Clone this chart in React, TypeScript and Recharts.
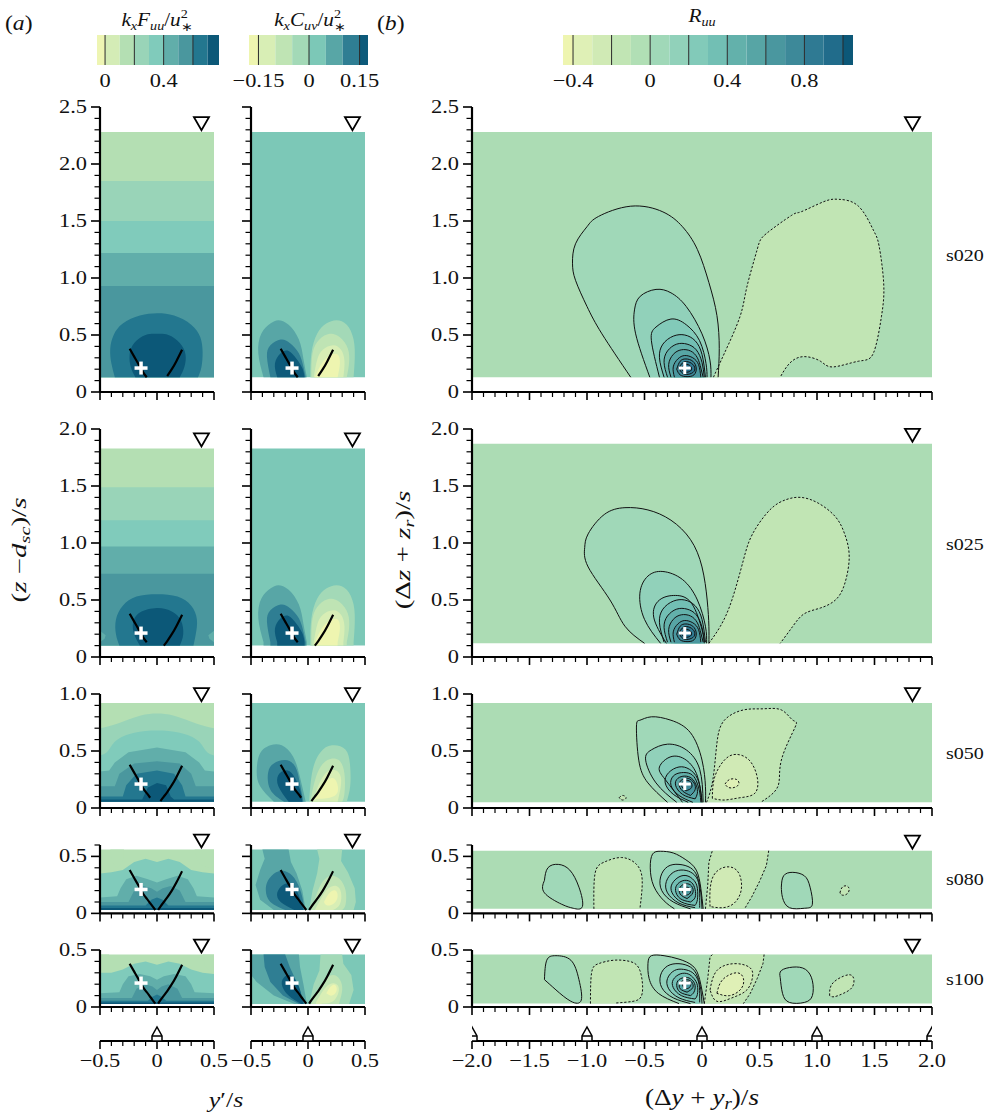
import React from 'react'
import { ComposedChart, Area, Line, Scatter, XAxis, YAxis, ReferenceDot } from 'recharts'

type Pt = [number, number] | null
type Curve = 'linear' | 'natural'
type Shape = { fill: string; pts: Pt[]; closed?: boolean; line?: 'solid' | 'dash'; curve?: Curve }

const SERIF = '"Liberation Serif", "Times New Roman", serif'
const STRETCH = 1.18
const ROT_STRETCH = 1.45
const UNIT = 114 // px per s, both directions
const YW = 44
const MT = 22
const MR = 10
const XH = 14
const AXIS_Y = 1041
const BAR_PAD = 30

// ---- colour bars ----
const FUU_EDGES = [-0.055, 0, 0.1, 0.2, 0.3, 0.4, 0.5, 0.6, 0.7, 0.778]
const FUU_COLORS = ['#eef5b3', '#d4ecb6', '#b4dfb3', '#99d4b8', '#80cbbb', '#61aeaa', '#4a979e', '#23778f', '#0c5878']
const FUU_LINES = [0, 0.2, 0.4, 0.6]
const FUU_TICKS = [0, 0.4]
const FUU_LABELS = ['0', '0.4']

const CUV_EDGES = [-0.178, -0.15, -0.1, -0.05, 0, 0.05, 0.1, 0.15, 0.175]
const CUV_COLORS = ['#eef5b0', '#d8eeb5', '#bfe4b4', '#a3d9b7', '#7cc8b7', '#58a6a6', '#2f7e93', '#0d5a7a']
const CUV_LINES = [-0.15, 0, 0.15]
const CUV_TICKS = [-0.15, 0, 0.15]
const CUV_LABELS = ['−0.15', '0', '0.15']

const RUU_EDGES = [-0.452, -0.4, -0.3, -0.2, -0.1, 0, 0.1, 0.2, 0.3, 0.4, 0.5, 0.6, 0.7, 0.8, 0.9, 1.0, 1.052]
const RUU_COLORS = [
  '#eef5b0', '#dff0b6', '#d0eab5', '#c1e5b4', '#b1dfb5', '#a0d8b8', '#91d1ba', '#82cab9',
  '#72bfb4', '#63b1ab', '#57a5a5', '#4a979f', '#3d8999', '#2f7a93', '#216c8b', '#0c5878',
]
const RUU_LINES = [-0.4, -0.2, 0, 0.2, 0.4, 0.6, 0.8, 1.0]
const RUU_TICKS = [-0.4, 0, 0.4, 0.8]
const RUU_LABELS = ['−0.4', '0', '0.4', '0.8']

const F = FUU_COLORS
const C = CUV_COLORS
const R = RUU_COLORS
const B_BG = '#acdcb4'

// ---- cases ----
const CASES = ['s020', 's025', 's050', 's080', 's100']
const Y_MAX = [2.5, 2.0, 1.0, 0.6, 0.5]
const FLOOR_A = [0.13, 0.1, 0.055, 0.03, 0.026]
const SURFACE_A = [2.28, 1.83, 0.92, 0.56, 0.46]
const FLOOR_B = [0.13, 0.12, 0.05, 0.04, 0.03]
const SURFACE_B = [2.28, 1.87, 0.92, 0.55, 0.46]
const ROW_ZERO = [392, 657, 808, 913, 1007]

const PLUS_A: [number, number] = [-0.14, 0.21]
const PLUS_B: [number, number] = [-0.15, 0.21]
const SURFACE_MARK_A = 0.39
const SURFACE_MARK_B = 1.83
const ROUGHNESS_A = [0]
const ROUGHNESS_B = [-2, -1, 0, 1, 2]

// edges of the shear layer drawn over the spectra
const ARC_LEFT: Pt[] = [[-0.24, 0.38], [-0.2, 0.31], [-0.16, 0.24], [-0.12, 0.17], [-0.09, 0.13], [-0.06, 0.09], [-0.03, 0.05], [-0.015, 0.03]]
const ARC_RIGHT: Pt[] = [[0.01, 0.03], [0.03, 0.06], [0.06, 0.1], [0.09, 0.14], [0.13, 0.2], [0.17, 0.27], [0.22, 0.37]]

const fl = (fill: string, pts: Pt[], closed = false, curve?: Curve): Shape => ({ fill, pts, closed, curve })
const sol = (fill: string, pts: Pt[], closed = false, curve?: Curve): Shape => ({ fill, pts, closed, curve, line: 'solid' })
const dsh = (fill: string, pts: Pt[], closed = false, curve?: Curve): Shape => ({ fill, pts, closed, curve, line: 'dash' })

// ---- k_x F_uu ----
const FUU_S020: Shape[] = [
  fl(F[3], [[-0.5, 1.85], [0.5, 1.85]]),
  fl(F[4], [[-0.5, 1.5], [0.5, 1.5]]),
  fl(F[5], [[-0.5, 1.22], [0.5, 1.22]]),
  fl(F[6], [[-0.5, 0.93], [0.5, 0.93]]),
  fl(F[7], [[-0.37, 0.13], [-0.4, 0.25], [-0.41, 0.38], [-0.38, 0.5], [-0.3, 0.6], [-0.15, 0.67], [0, 0.69], [0.15, 0.67], [0.3, 0.59], [0.38, 0.48], [0.4, 0.35], [0.39, 0.22], [0.36, 0.13]], false, 'natural'),
  fl(F[8], [[-0.19, 0.13], [-0.23, 0.22], [-0.24, 0.33], [-0.2, 0.43], [-0.1, 0.5], [0, 0.51], [0.1, 0.5], [0.2, 0.43], [0.25, 0.33], [0.24, 0.22], [0.2, 0.13]], false, 'natural'),
]
const FUU_S025: Shape[] = [
  fl(F[3], [[-0.5, 1.49], [0.5, 1.49]]),
  fl(F[4], [[-0.5, 1.2], [0.5, 1.2]]),
  fl(F[5], [[-0.5, 0.97], [0.5, 0.97]]),
  fl(F[6], [[-0.5, 0.73], [0.5, 0.73]]),
  fl(F[5], [[-0.5, 0.13], [-0.46, 0.16], [-0.45, 0.19], [-0.5, 0.23]]),
  fl(F[5], [[0.5, 0.23], [0.45, 0.19], [0.46, 0.16], [0.5, 0.13]]),
  fl(F[7], [[-0.33, 0.1], [-0.36, 0.2], [-0.36, 0.33], [-0.3, 0.45], [-0.18, 0.53], [0, 0.55], [0.18, 0.53], [0.3, 0.45], [0.35, 0.33], [0.34, 0.2], [0.32, 0.1]], false, 'natural'),
  fl(F[8], [[-0.15, 0.1], [-0.2, 0.2], [-0.21, 0.3], [-0.15, 0.39], [0, 0.43], [0.13, 0.4], [0.21, 0.32], [0.23, 0.2], [0.2, 0.1]], false, 'natural'),
]
const FUU_S050: Shape[] = [
  fl(F[3], [[-0.5, 0.7], [-0.35, 0.74], [-0.15, 0.81], [0, 0.83], [0.15, 0.81], [0.35, 0.74], [0.5, 0.7]], false, 'natural'),
  fl(F[4], [[-0.5, 0.46], [-0.43, 0.5], [-0.36, 0.59], [-0.2, 0.66], [0, 0.68], [0.2, 0.66], [0.36, 0.59], [0.43, 0.5], [0.5, 0.46]], false, 'natural'),
  fl(F[5], [[-0.5, 0.32], [-0.42, 0.33], [-0.37, 0.4], [-0.25, 0.49], [0, 0.53], [0.25, 0.49], [0.37, 0.4], [0.42, 0.33], [0.5, 0.32]]),
  fl(F[6], [[-0.5, 0.19], [-0.37, 0.19], [-0.33, 0.3], [-0.2, 0.39], [0, 0.41], [0.2, 0.39], [0.3, 0.3], [0.34, 0.19], [0.5, 0.19]]),
  fl(F[7], [[-0.5, 0.1], [-0.3, 0.1], [-0.27, 0.2], [-0.18, 0.3], [0, 0.33], [0.15, 0.3], [0.22, 0.2], [0.25, 0.1], [0.5, 0.1]]),
  fl(F[8], [[-0.5, 0.075], [-0.13, 0.075], [-0.08, 0.18], [0, 0.22], [0.08, 0.2], [0.12, 0.1], [0.15, 0.075], [0.5, 0.075]]),
]
const FUU_S080: Shape[] = [
  fl(F[2], [[-0.41, 0.56], [-0.4, 0.46], [-0.35, 0.4], [-0.3, 0.45], [-0.29, 0.56]], true),
  fl(F[2], [[0.33, 0.56], [0.36, 0.44], [0.44, 0.4], [0.5, 0.41], [0.5, 0.56]], true),
  fl(F[4], [[-0.5, 0.35], [-0.4, 0.36], [-0.3, 0.38], [-0.2, 0.45], [-0.1, 0.48], [0, 0.45], [0.1, 0.48], [0.2, 0.45], [0.3, 0.38], [0.4, 0.36], [0.5, 0.35]]),
  fl(F[5], [[-0.5, 0.14], [-0.35, 0.15], [-0.32, 0.22], [-0.27, 0.3], [-0.18, 0.33], [-0.08, 0.3], [0, 0.27], [0.08, 0.3], [0.18, 0.33], [0.27, 0.3], [0.32, 0.22], [0.35, 0.15], [0.5, 0.14]]),
  fl(F[6], [[-0.5, 0.1], [-0.25, 0.1], [-0.2, 0.2], [-0.12, 0.24], [-0.05, 0.22], [0, 0.19], [0.05, 0.22], [0.12, 0.24], [0.2, 0.2], [0.25, 0.1], [0.5, 0.1]]),
  fl(F[7], [[-0.5, 0.07], [-0.1, 0.07], [-0.05, 0.12], [0, 0.14], [0.05, 0.12], [0.1, 0.07], [0.5, 0.07]]),
  fl(F[8], [[-0.5, 0.048], [0.5, 0.048]]),
]
const FUU_S100: Shape[] = [
  fl(F[2], [[-0.5, 0.3], [-0.44, 0.33], [-0.42, 0.46], [-0.5, 0.46]], true),
  fl(F[2], [[0.4, 0.46], [0.42, 0.36], [0.48, 0.3], [0.5, 0.3], [0.5, 0.46]], true),
  fl(F[4], [[-0.5, 0.3], [-0.4, 0.3], [-0.3, 0.33], [-0.2, 0.38], [-0.1, 0.4], [0, 0.37], [0.1, 0.4], [0.2, 0.38], [0.3, 0.33], [0.4, 0.3], [0.5, 0.29]]),
  fl(F[5], [[-0.5, 0.12], [-0.33, 0.13], [-0.3, 0.2], [-0.25, 0.27], [-0.15, 0.29], [-0.06, 0.27], [0, 0.24], [0.06, 0.27], [0.15, 0.29], [0.25, 0.27], [0.3, 0.2], [0.33, 0.13], [0.5, 0.12]]),
  fl(F[6], [[-0.5, 0.08], [-0.22, 0.08], [-0.18, 0.16], [-0.1, 0.2], [-0.04, 0.18], [0, 0.15], [0.04, 0.18], [0.1, 0.2], [0.18, 0.16], [0.22, 0.08], [0.5, 0.08]]),
  fl(F[7], [[-0.5, 0.055], [-0.08, 0.055], [-0.04, 0.09], [0, 0.11], [0.04, 0.09], [0.08, 0.055], [0.5, 0.055]]),
  fl(F[8], [[-0.5, 0.04], [0.5, 0.04]]),
]

// ---- k_x C_uv ----
const CUV_S020: Shape[] = [
  fl(C[5], [[-0.39, 0.13], [-0.436, 0.34], [-0.41, 0.51], [-0.33, 0.6], [-0.26, 0.63], [-0.17, 0.59], [-0.08, 0.46], [-0.04, 0.29], [-0.01, 0.13]]),
  fl(C[6], [[-0.33, 0.13], [-0.36, 0.31], [-0.33, 0.41], [-0.24, 0.46], [-0.16, 0.43], [-0.08, 0.34], [-0.04, 0.22], [-0.02, 0.13]]),
  fl(C[7], [[-0.27, 0.13], [-0.29, 0.25], [-0.24, 0.34], [-0.17, 0.36], [-0.1, 0.29], [-0.05, 0.21], [-0.03, 0.13]]),
  fl(C[3], [[0.02, 0.13], [0.03, 0.34], [0.08, 0.51], [0.16, 0.6], [0.25, 0.63], [0.34, 0.59], [0.4, 0.46], [0.41, 0.29], [0.4, 0.13]]),
  fl(C[2], [[0.03, 0.13], [0.04, 0.34], [0.1, 0.46], [0.19, 0.51], [0.28, 0.48], [0.35, 0.38], [0.36, 0.25], [0.34, 0.13]]),
  fl(C[1], [[0.05, 0.13], [0.08, 0.28], [0.13, 0.37], [0.22, 0.41], [0.29, 0.37], [0.32, 0.27], [0.31, 0.13]]),
  fl(C[0], [[0.06, 0.13], [0.12, 0.25], [0.19, 0.32], [0.26, 0.33], [0.28, 0.25], [0.26, 0.13]]),
]
const CUV_S025 = CUV_S020
const CUV_S050: Shape[] = [
  fl(C[5], [[-0.3, 0.055], [-0.42, 0.19], [-0.45, 0.33], [-0.42, 0.48], [-0.33, 0.55], [-0.23, 0.55], [-0.13, 0.45], [-0.07, 0.27], [-0.02, 0.055]]),
  fl(C[6], [[-0.21, 0.055], [-0.33, 0.16], [-0.35, 0.31], [-0.3, 0.39], [-0.2, 0.42], [-0.11, 0.36], [-0.07, 0.21], [-0.04, 0.055]]),
  fl(C[7], [[-0.17, 0.055], [-0.26, 0.19], [-0.26, 0.29], [-0.2, 0.33], [-0.13, 0.29], [-0.07, 0.16], [-0.05, 0.055]]),
  fl(C[3], [[0.01, 0.055], [0.04, 0.33], [0.11, 0.49], [0.21, 0.55], [0.33, 0.51], [0.37, 0.36], [0.37, 0.19], [0.34, 0.055]]),
  fl(C[2], [[0.02, 0.055], [0.08, 0.3], [0.17, 0.42], [0.27, 0.42], [0.32, 0.3], [0.32, 0.13], [0.3, 0.055]]),
  fl(C[1], [[0.04, 0.055], [0.11, 0.24], [0.19, 0.33], [0.27, 0.31], [0.29, 0.21], [0.26, 0.055]]),
  fl(C[0], [[0.06, 0.08], [0.12, 0.19], [0.2, 0.26], [0.25, 0.23], [0.26, 0.14], [0.19, 0.09]], true),
]
const CUV_S080: Shape[] = [
  fl(C[5], [[-0.3, 0.03], [-0.42, 0.12], [-0.46, 0.25], [-0.42, 0.38], [-0.38, 0.48], [-0.4, 0.56], [-0.17, 0.56], [-0.15, 0.45], [-0.1, 0.35], [-0.05, 0.2], [-0.02, 0.03]], false, 'linear'),
  fl(C[6], [[-0.2, 0.03], [-0.33, 0.1], [-0.37, 0.2], [-0.35, 0.29], [-0.28, 0.36], [-0.2, 0.37], [-0.12, 0.31], [-0.06, 0.18], [-0.03, 0.03]]),
  fl(C[7], [[-0.12, 0.03], [-0.24, 0.1], [-0.27, 0.18], [-0.22, 0.25], [-0.15, 0.26], [-0.1, 0.2], [-0.06, 0.1], [-0.04, 0.03]]),
  fl(C[3], [[0.01, 0.03], [0.04, 0.2], [0.08, 0.35], [0.1, 0.48], [0.08, 0.56], [0.3, 0.56], [0.29, 0.46], [0.35, 0.36], [0.41, 0.22], [0.42, 0.1], [0.4, 0.03]], false, 'linear'),
  fl(C[2], [[0.03, 0.03], [0.08, 0.18], [0.13, 0.28], [0.2, 0.33], [0.28, 0.3], [0.33, 0.2], [0.33, 0.08], [0.3, 0.03]]),
  fl(C[1], [[0.06, 0.03], [0.12, 0.14], [0.18, 0.22], [0.25, 0.24], [0.29, 0.18], [0.28, 0.08], [0.22, 0.03]]),
  fl(C[0], [[0.14, 0.1], [0.19, 0.18], [0.24, 0.2], [0.26, 0.15], [0.23, 0.09], [0.17, 0.07]], true),
]
const CUV_S100: Shape[] = [
  fl(C[5], [[-0.12, 0.026], [-0.3, 0.1], [-0.45, 0.22], [-0.5, 0.28], [-0.5, 0.46], [-0.08, 0.46], [-0.07, 0.35], [-0.04, 0.2], [-0.01, 0.026]], false, 'linear'),
  fl(C[6], [[-0.08, 0.026], [-0.22, 0.1], [-0.33, 0.22], [-0.38, 0.35], [-0.39, 0.46], [-0.2, 0.46], [-0.16, 0.35], [-0.09, 0.2], [-0.03, 0.026]], false, 'linear'),
  fl(C[7], [[-0.06, 0.026], [-0.17, 0.1], [-0.23, 0.2], [-0.2, 0.27], [-0.14, 0.27], [-0.08, 0.18], [-0.04, 0.026]]),
  fl(C[3], [[0.01, 0.026], [0.05, 0.2], [0.1, 0.32], [0.11, 0.46], [0.3, 0.46], [0.31, 0.38], [0.38, 0.28], [0.4, 0.15], [0.36, 0.026]], false, 'linear'),
  fl(C[2], [[0.03, 0.026], [0.09, 0.15], [0.15, 0.24], [0.22, 0.28], [0.28, 0.24], [0.3, 0.15], [0.27, 0.026]]),
  fl(C[1], [[0.07, 0.04], [0.13, 0.14], [0.19, 0.2], [0.25, 0.2], [0.27, 0.14], [0.22, 0.05], [0.12, 0.03]]),
  fl(C[0], [[0.16, 0.12], [0.2, 0.18], [0.24, 0.19], [0.25, 0.14], [0.21, 0.1]], true),
]

// ---- R_uu ----
const RUU_CORE: Shape[] = [
  sol(R[8], [[-0.33, 0.13], [-0.37, 0.3], [-0.34, 0.42], [-0.25, 0.49], [-0.15, 0.5], [-0.06, 0.45], [0.0, 0.33], [0.03, 0.13]]),
  sol(R[9], [[-0.3, 0.13], [-0.33, 0.26], [-0.3, 0.36], [-0.22, 0.42], [-0.13, 0.42], [-0.05, 0.37], [0.0, 0.26], [0.02, 0.13]]),
  sol(R[10], [[-0.27, 0.13], [-0.29, 0.24], [-0.25, 0.33], [-0.18, 0.37], [-0.1, 0.36], [-0.04, 0.3], [-0.01, 0.21], [0.01, 0.13]]),
  sol(R[11], [[-0.24, 0.13], [-0.25, 0.22], [-0.21, 0.29], [-0.15, 0.32], [-0.08, 0.3], [-0.03, 0.24], [-0.01, 0.13]]),
  sol(R[12], [[-0.22, 0.2], [-0.19, 0.27], [-0.14, 0.29], [-0.08, 0.27], [-0.05, 0.21], [-0.07, 0.15], [-0.13, 0.135], [-0.19, 0.15]], true),
  sol(R[13], [[-0.2, 0.21], [-0.17, 0.255], [-0.12, 0.265], [-0.07, 0.23], [-0.07, 0.18], [-0.12, 0.155], [-0.17, 0.165]], true),
  sol(R[14], [[-0.18, 0.21], [-0.15, 0.24], [-0.11, 0.235], [-0.09, 0.2], [-0.12, 0.175], [-0.16, 0.18]], true),
]
const RUU_S020: Shape[] = [
  sol(R[5], [[-0.62, 0.13], [-0.87, 0.51], [-1.0, 0.75], [-1.1, 0.98], [-1.126, 1.13], [-1.1, 1.3], [-1.0, 1.45], [-0.9, 1.54], [-0.62, 1.63], [-0.34, 1.58], [-0.17, 1.45], [-0.04, 1.25], [0.06, 0.96], [0.13, 0.67], [0.15, 0.38], [0.14, 0.13]]),
  sol(R[6], [[-0.454, 0.13], [-0.577, 0.51], [-0.587, 0.72], [-0.537, 0.84], [-0.4, 0.9], [-0.27, 0.87], [-0.137, 0.75], [0.0, 0.51], [0.069, 0.28], [0.078, 0.13]]),
  sol(R[7], [[-0.37, 0.13], [-0.44, 0.45], [-0.4, 0.57], [-0.27, 0.64], [-0.137, 0.59], [-0.021, 0.45], [0.035, 0.25], [0.044, 0.13]]),
  ...RUU_CORE,
  dsh(R[3], [[0.1, 0.13], [0.195, 0.34], [0.33, 0.66], [0.39, 0.92], [0.48, 1.25], [0.56, 1.39], [0.78, 1.55], [0.86, 1.58], [1.06, 1.67], [1.19, 1.69], [1.36, 1.63], [1.49, 1.42], [1.54, 1.28], [1.58, 0.95], [1.56, 0.66], [1.49, 0.34], [1.36, 0.27], [1.14, 0.22], [1.03, 0.27], [0.88, 0.31], [0.76, 0.25], [0.68, 0.13]]),
]
const RUU_S025: Shape[] = [
  sol(R[5], [[-0.5, 0.12], [-0.67, 0.27], [-0.8, 0.5], [-0.99, 0.79], [-1.02, 0.96], [-0.99, 1.08], [-0.85, 1.25], [-0.67, 1.31], [-0.47, 1.29], [-0.27, 1.2], [-0.1, 1.03], [0.0, 0.79], [0.045, 0.5], [0.06, 0.27], [0.06, 0.12]]),
  sol(R[6], [[-0.36, 0.12], [-0.5, 0.33], [-0.54, 0.56], [-0.47, 0.71], [-0.34, 0.75], [-0.17, 0.68], [-0.04, 0.5], [0.03, 0.27], [0.04, 0.12]]),
  sol(R[7], [[-0.31, 0.12], [-0.42, 0.35], [-0.37, 0.5], [-0.23, 0.54], [-0.09, 0.47], [0.0, 0.24], [0.02, 0.12]]),
  ...RUU_CORE,
  dsh(R[3], [[0.06, 0.12], [0.16, 0.27], [0.26, 0.5], [0.36, 0.85], [0.44, 1.08], [0.59, 1.29], [0.73, 1.38], [0.86, 1.4], [1.01, 1.35], [1.16, 1.23], [1.24, 1.08], [1.28, 0.88], [1.24, 0.64], [1.16, 0.5], [1.03, 0.43], [0.89, 0.38], [0.79, 0.27], [0.68, 0.12]]),
]
const RUU_S050: Shape[] = [
  sol(R[5], [[-0.3, 0.05], [-0.47, 0.22], [-0.55, 0.42], [-0.57, 0.71], [-0.54, 0.77], [-0.44, 0.8], [-0.27, 0.77], [-0.1, 0.66], [0.0, 0.42], [0.03, 0.19], [0.03, 0.05]]),
  sol(R[6], [[-0.22, 0.05], [-0.4, 0.22], [-0.49, 0.42], [-0.44, 0.51], [-0.3, 0.56], [-0.137, 0.51], [-0.02, 0.34], [0.01, 0.05]]),
  sol(R[7], [[-0.17, 0.05], [-0.32, 0.25], [-0.37, 0.36], [-0.27, 0.45], [-0.137, 0.42], [-0.04, 0.28], [0.0, 0.05]]),
  sol(R[8], [[-0.12, 0.05], [-0.25, 0.12], [-0.32, 0.22], [-0.29, 0.31], [-0.2, 0.36], [-0.11, 0.34], [-0.04, 0.26], [-0.01, 0.14], [0.0, 0.05]]),
  sol(R[9], [[-0.08, 0.05], [-0.2, 0.11], [-0.27, 0.2], [-0.25, 0.28], [-0.18, 0.31], [-0.1, 0.3], [-0.05, 0.24], [-0.02, 0.14], [-0.01, 0.05]]),
  sol(R[10], [[-0.06, 0.08], [-0.17, 0.12], [-0.23, 0.2], [-0.21, 0.26], [-0.15, 0.28], [-0.09, 0.26], [-0.05, 0.2], [-0.04, 0.13]], true),
  sol(R[11], [[-0.1, 0.11], [-0.17, 0.15], [-0.2, 0.21], [-0.17, 0.25], [-0.12, 0.26], [-0.07, 0.22], [-0.06, 0.16]], true),
  sol(R[12], [[-0.14, 0.15], [-0.18, 0.2], [-0.15, 0.24], [-0.1, 0.23], [-0.09, 0.18]], true),
  dsh(R[3], [[-0.72, 0.09], [-0.69, 0.11], [-0.66, 0.09], [-0.69, 0.07]], true),
  dsh(R[3], [[0.04, 0.05], [0.095, 0.25], [0.13, 0.57], [0.195, 0.77], [0.36, 0.86], [0.53, 0.87], [0.69, 0.86], [0.79, 0.77], [0.81, 0.71], [0.69, 0.42], [0.66, 0.19], [0.51, 0.05]]),
  dsh(R[2], [[0.09, 0.085], [0.11, 0.27], [0.195, 0.42], [0.295, 0.47], [0.41, 0.42], [0.48, 0.27], [0.46, 0.13], [0.33, 0.09], [0.195, 0.07]], true),
  dsh(R[1], [[0.2, 0.21], [0.24, 0.25], [0.3, 0.25], [0.32, 0.21], [0.28, 0.18], [0.23, 0.18]], true),
]
const RUU_S080: Shape[] = [
  sol(R[5], [[-1.37, 0.29], [-1.34, 0.4], [-1.25, 0.43], [-1.15, 0.38], [-1.07, 0.23], [-1.04, 0.06], [-1.12, 0.045], [-1.22, 0.08], [-1.37, 0.18]], true),
  dsh(R[3], [[-0.94, 0.04], [-0.93, 0.35], [-0.85, 0.45], [-0.7, 0.49], [-0.57, 0.43], [-0.52, 0.29], [-0.54, 0.04]]),
  sol(R[5], [[-0.24, 0.04], [-0.33, 0.11], [-0.42, 0.24], [-0.45, 0.4], [-0.43, 0.52], [-0.36, 0.545], [-0.25, 0.53], [-0.14, 0.47], [-0.05, 0.38], [-0.01, 0.22], [0.01, 0.04]]),
  sol(R[6], [[-0.1, 0.04], [-0.25, 0.1], [-0.35, 0.2], [-0.36, 0.32], [-0.3, 0.41], [-0.2, 0.43], [-0.1, 0.4], [-0.04, 0.32], [-0.01, 0.18], [0.0, 0.04]]),
  sol(R[7], [[-0.06, 0.05], [-0.2, 0.09], [-0.3, 0.18], [-0.31, 0.28], [-0.25, 0.36], [-0.16, 0.38], [-0.08, 0.35], [-0.03, 0.27], [-0.02, 0.14], [-0.02, 0.05]]),
  sol(R[8], [[-0.06, 0.07], [-0.18, 0.1], [-0.26, 0.18], [-0.26, 0.26], [-0.2, 0.32], [-0.13, 0.33], [-0.07, 0.29], [-0.04, 0.22], [-0.04, 0.12]], true),
  sol(R[9], [[-0.1, 0.1], [-0.19, 0.13], [-0.23, 0.2], [-0.21, 0.26], [-0.15, 0.29], [-0.09, 0.27], [-0.06, 0.21], [-0.06, 0.14]], true),
  sol(R[10], [[-0.13, 0.13], [-0.19, 0.17], [-0.19, 0.23], [-0.14, 0.26], [-0.09, 0.24], [-0.08, 0.18]], true),
  sol(R[11], [[-0.15, 0.16], [-0.17, 0.2], [-0.14, 0.23], [-0.1, 0.21], [-0.11, 0.17]], true),
  dsh(R[3], [[0.03, 0.04], [0.05, 0.25], [0.06, 0.45], [0.09, 0.55], null, [0.58, 0.55], [0.56, 0.42], [0.5, 0.28], [0.43, 0.14], [0.37, 0.04]], false, 'linear'),
  dsh(R[2], [[0.07, 0.06], [0.07, 0.2], [0.1, 0.33], [0.18, 0.4], [0.27, 0.4], [0.33, 0.33], [0.34, 0.2], [0.28, 0.09], [0.18, 0.05]], true),
  sol(R[5], [[0.69, 0.23], [0.71, 0.33], [0.79, 0.36], [0.89, 0.33], [0.94, 0.23], [0.96, 0.08], [0.89, 0.045], [0.76, 0.05], [0.7, 0.14]], true),
  dsh(R[3], [[1.2, 0.18], [1.22, 0.23], [1.26, 0.24], [1.28, 0.21], [1.26, 0.17], [1.22, 0.16]], true),
]
const RUU_S100: Shape[] = [
  sol(R[5], [[-1.37, 0.24], [-1.35, 0.41], [-1.27, 0.45], [-1.14, 0.41], [-1.07, 0.24], [-1.05, 0.06], [-1.14, 0.05], [-1.27, 0.15]], true),
  dsh(R[3], [[-0.97, 0.03], [-0.96, 0.3], [-0.9, 0.38], [-0.77, 0.41], [-0.63, 0.4], [-0.54, 0.32], [-0.52, 0.12], [-0.6, 0.05], [-0.75, 0.035]]),
  sol(R[5], [[-0.2, 0.03], [-0.38, 0.12], [-0.46, 0.25], [-0.47, 0.38], [-0.44, 0.45], [-0.33, 0.45], [-0.2, 0.42], [-0.08, 0.36], [-0.02, 0.24], [0.02, 0.03]]),
  sol(R[6], [[-0.1, 0.03], [-0.25, 0.08], [-0.35, 0.17], [-0.36, 0.28], [-0.3, 0.36], [-0.2, 0.38], [-0.1, 0.35], [-0.04, 0.27], [-0.01, 0.15], [0.0, 0.03]]),
  sol(R[7], [[-0.06, 0.04], [-0.2, 0.08], [-0.29, 0.16], [-0.3, 0.25], [-0.24, 0.32], [-0.16, 0.33], [-0.08, 0.3], [-0.03, 0.22], [-0.02, 0.12], [-0.02, 0.04]]),
  sol(R[8], [[-0.06, 0.07], [-0.18, 0.1], [-0.25, 0.17], [-0.25, 0.24], [-0.19, 0.29], [-0.12, 0.29], [-0.07, 0.25], [-0.04, 0.19], [-0.04, 0.11]], true),
  sol(R[9], [[-0.1, 0.1], [-0.19, 0.13], [-0.22, 0.19], [-0.2, 0.24], [-0.14, 0.26], [-0.09, 0.24], [-0.06, 0.19], [-0.07, 0.13]], true),
  sol(R[10], [[-0.13, 0.13], [-0.19, 0.16], [-0.19, 0.21], [-0.14, 0.24], [-0.09, 0.22], [-0.08, 0.17]], true),
  sol(R[11], [[-0.15, 0.16], [-0.17, 0.2], [-0.14, 0.225], [-0.1, 0.21], [-0.11, 0.17]], true),
  dsh(R[3], [[0.02, 0.03], [0.05, 0.25], [0.07, 0.44], [0.09, 0.46], null, [0.54, 0.46], [0.53, 0.38], [0.48, 0.25], [0.42, 0.12], [0.36, 0.03]], false, 'linear'),
  dsh(R[2], [[0.07, 0.15], [0.13, 0.32], [0.28, 0.38], [0.41, 0.35], [0.44, 0.27], [0.39, 0.15], [0.26, 0.08], [0.13, 0.05]], true),
  dsh(R[1], [[0.13, 0.12], [0.18, 0.24], [0.3, 0.3], [0.36, 0.25], [0.34, 0.16], [0.24, 0.1]], true),
  sol(R[5], [[0.68, 0.26], [0.69, 0.32], [0.79, 0.35], [0.9, 0.33], [0.96, 0.23], [0.96, 0.1], [0.89, 0.04], [0.76, 0.04], [0.7, 0.12]], true),
  dsh(R[3], [[1.11, 0.1], [1.13, 0.2], [1.23, 0.27], [1.31, 0.27], [1.31, 0.18], [1.23, 0.12], [1.15, 0.09]], true),
]

const FUU_ROWS = [FUU_S020, FUU_S025, FUU_S050, FUU_S080, FUU_S100]
const CUV_ROWS = [CUV_S020, CUV_S025, CUV_S050, CUV_S080, CUV_S100]
const RUU_ROWS = [RUU_S020, RUU_S025, RUU_S050, RUU_S080, RUU_S100]

// ---- helpers ----
const steps = (a: number, b: number, d: number) =>
  Array.from({ length: Math.round((b - a) / d) + 1 }, (_, i) => +(a + i * d).toFixed(3))
const isMajor = (v: number) => Math.abs(v * 2 - Math.round(v * 2)) < 1e-6
const fmt = (v: number) => (Math.abs(v) < 1e-9 ? '0' : (v < 0 ? '−' : '') + Math.abs(v).toFixed(1))

const X_TICKS_A = steps(-0.5, 0.5, 0.1)
const X_TICKS_B = steps(-2, 2, 0.1)

function SText({ x, y, size = 19, anchor = 'middle', rotate = false, children }: any) {
  const tf = rotate
    ? `translate(${x},${y}) rotate(-90) scale(${ROT_STRETCH},1)`
    : `translate(${x},${y}) scale(${STRETCH},1)`
  return (
    <text transform={tf} textAnchor={anchor} fontFamily={SERIF} fontSize={size} fill="#111">
      {children}
    </text>
  )
}

const xTick = (labels: boolean) => (p: any) => {
  const v = p.payload.value
  const major = isMajor(v)
  const len = major ? 8 : 5
  return (
    <g>
      <line x1={p.x} x2={p.x} y1={p.y} y2={p.y + len} stroke="#000" strokeWidth={major ? 1.6 : 1.2} />
      {labels && major && <SText x={p.x} y={p.y + len + 18}>{fmt(v)}</SText>}
    </g>
  )
}

const yTick = (labels: boolean) => (p: any) => {
  const v = p.payload.value
  const major = isMajor(v)
  const len = major ? 9 : 5.5
  return (
    <g>
      <line x1={p.x - len} x2={p.x} y1={p.y} y2={p.y} stroke="#000" strokeWidth={major ? 1.6 : 1.2} />
      {labels && major && <SText x={p.x - len - 4} y={p.y + 6} anchor="end">{fmt(v)}</SText>}
    </g>
  )
}

const surfaceMark = (p: any) => (
  <path
    d={`M${p.cx - 7.5},${p.cy - 15} L${p.cx + 7.5},${p.cy - 15} L${p.cx},${p.cy - 2} Z`}
    fill="#fff"
    stroke="#000"
    strokeWidth={1.8}
  />
)

const plusMark = (arm: number, w: number) => (p: any) => (
  <g>
    <rect x={p.cx - arm} y={p.cy - w / 2} width={2 * arm} height={w} fill="#fff" />
    <rect x={p.cx - w / 2} y={p.cy - arm} width={w} height={2 * arm} fill="#fff" />
  </g>
)

const roughnessMark = (p: any) => (
  <g fill="#fff" stroke="#000" strokeWidth={1.5}>
    <path d={`M${p.cx - 5},${p.cy} L${p.cx - 5},${p.cy - 5} L${p.cx},${p.cy - 14} L${p.cx + 5},${p.cy - 5} L${p.cx + 5},${p.cy} Z`} />
    <line x1={p.cx - 5} x2={p.cx + 5} y1={p.cy - 5} y2={p.cy - 5} />
  </g>
)

const AXIS_LINE = { stroke: '#000', strokeWidth: 2.2 }

const fillData = (s: Shape) => {
  const pts = s.pts.filter((p): p is [number, number] => p !== null)
  const out = pts.map(([x, y]) => ({ x, y }))
  if (s.closed) out.push({ x: pts[0][0], y: pts[0][1] })
  return out
}

const strokeData = (s: Shape) => {
  const out: { x: number; y: number | null }[] = []
  let lastX = 0
  s.pts.forEach((p) => {
    if (p) {
      out.push({ x: p[0], y: p[1] })
      lastX = p[0]
    } else out.push({ x: lastX, y: null })
  })
  const first = s.pts[0]
  if (s.closed && first) out.push({ x: first[0], y: first[1] })
  return out
}

type PanelProps = {
  left: number
  plotW: number
  zero: number
  yMax: number
  xDomain: [number, number]
  xTicks: number[]
  floor: number
  surface: number
  bg: string
  shapes: Shape[]
  curve: Curve
  yLabels: boolean
  plus: [number, number]
  plusArm: number
  plusW: number
  markX: number
  arcs: boolean
}

function Panel(props: PanelProps) {
  const { left, plotW, zero, yMax, xDomain, xTicks, floor, surface, bg, shapes, curve, yLabels, plus, plusArm, plusW, markX, arcs } = props
  const plotH = yMax * UNIT
  const arcData = (arc: Pt[]) =>
    arc.filter((p): p is [number, number] => p !== null && p[1] >= floor - 1e-9).map(([x, y]) => ({ x, y }))
  return (
    <div style={{ position: 'absolute', left: left - YW, top: zero - plotH - MT }}>
      <ComposedChart width={YW + plotW + MR} height={MT + plotH + XH} margin={{ top: MT, right: MR, bottom: 0, left: 0 }}>
        <XAxis
          dataKey="x" type="number" domain={xDomain} allowDataOverflow ticks={xTicks} interval={0}
          tickSize={0} tickMargin={0} tickLine={false} axisLine={AXIS_LINE} tick={xTick(false)} height={XH}
        />
        <YAxis
          dataKey="y" type="number" domain={[0, yMax]} allowDataOverflow ticks={steps(0, yMax, 0.1)} interval={0}
          tickSize={0} tickMargin={0} tickLine={false} axisLine={AXIS_LINE} tick={yTick(yLabels)} width={YW}
        />
        <Area
          data={[{ x: xDomain[0], y: surface }, { x: xDomain[1], y: surface }]}
          dataKey="y" type="linear" baseValue={floor} fill={bg} fillOpacity={1} stroke="none"
          dot={false} activeDot={false} isAnimationActive={false}
        />
        {shapes.map((s, i) => (
          <Area
            key={`f${i}`} data={fillData(s)} dataKey="y" type={s.curve ?? curve} baseValue={floor}
            fill={s.fill} fillOpacity={1} stroke="none" dot={false} activeDot={false} isAnimationActive={false}
          />
        ))}
        {shapes.map((s, i) =>
          s.line ? (
            <Line
              key={`l${i}`} data={strokeData(s)} dataKey="y" type={s.curve ?? curve} stroke="#111"
              strokeWidth={1} strokeDasharray={s.line === 'dash' ? '2.2 1.8' : undefined}
              dot={false} activeDot={false} isAnimationActive={false}
            />
          ) : null
        )}
        {arcs &&
          [ARC_LEFT, ARC_RIGHT].map((arc, i) => (
            <Line
              key={`a${i}`} data={arcData(arc)} dataKey="y" type="natural" stroke="#000" strokeWidth={2.2}
              dot={false} activeDot={false} isAnimationActive={false}
            />
          ))}
        <ReferenceDot x={plus[0]} y={plus[1]} r={1} ifOverflow="visible" shape={plusMark(plusArm, plusW)} />
        <ReferenceDot x={markX} y={surface} r={1} ifOverflow="visible" shape={surfaceMark} />
      </ComposedChart>
    </div>
  )
}

function BaseAxis({ left, plotW, xDomain, xTicks, marks }: any) {
  return (
    <div style={{ position: 'absolute', left: left - YW, top: AXIS_Y - 20 }}>
      <ComposedChart width={YW + plotW + 40} height={62} margin={{ top: 0, right: 40, bottom: 0, left: YW }}>
        <XAxis
          dataKey="x" type="number" domain={xDomain} allowDataOverflow ticks={xTicks} interval={0}
          tickSize={0} tickMargin={0} tickLine={false} axisLine={AXIS_LINE} tick={xTick(true)} height={42}
        />
        <YAxis dataKey="y" type="number" domain={[0, 1]} hide />
        <Scatter data={marks.map((x: number) => ({ x, y: 0 }))} shape={roughnessMark} isAnimationActive={false} />
      </ComposedChart>
    </div>
  )
}

function ColourBar({ left, width, edges, colors, lines, ticks, labels }: any) {
  return (
    <div style={{ position: 'absolute', left: left - BAR_PAD, top: 35 }}>
      <ComposedChart
        width={width + 2 * BAR_PAD} height={60}
        margin={{ top: 0, right: BAR_PAD, bottom: 0, left: BAR_PAD }}
      >
        <XAxis
          dataKey="x" type="number" domain={[edges[0], edges[edges.length - 1]]} allowDataOverflow ticks={ticks}
          interval={0} axisLine={false} tickLine={false} tickSize={0} tickMargin={0} height={30}
          tick={(p: any) => <SText x={p.x} y={p.y + 22}>{labels[ticks.indexOf(p.payload.value)]}</SText>}
        />
        <YAxis dataKey="y" type="number" domain={[0, 1]} hide />
        {colors.map((c: string, i: number) => (
          <Area
            key={`c${i}`} data={[{ x: edges[i], y: 1 }, { x: edges[i + 1], y: 1 }]} dataKey="y" type="linear"
            baseValue={0} fill={c} fillOpacity={1} stroke="none" dot={false} activeDot={false} isAnimationActive={false}
          />
        ))}
        {lines.map((v: number, i: number) => (
          <Line
            key={`s${i}`} data={[{ x: v, y: 0 }, { x: v, y: 1 }]} dataKey="y" type="linear" stroke="#2a2a2a"
            strokeWidth={1} dot={false} activeDot={false} isAnimationActive={false}
          />
        ))}
      </ComposedChart>
    </div>
  )
}

const it = { fontStyle: 'italic' as const }

export default function App() {
  return (
    <div style={{ position: 'absolute', left: 0, top: 0, width: 992, height: 1118, background: '#fff' }}>
      <svg width={992} height={1118} style={{ position: 'absolute', left: 0, top: 0 }}>
        <SText x={5} y={30} size={20} anchor="start">(<tspan {...it}>a</tspan>)</SText>
        <SText x={377} y={30} size={20} anchor="start">(<tspan {...it}>b</tspan>)</SText>
        <SText x={157} y={26} size={18}>
          <tspan {...it}>k</tspan>
          <tspan {...it} fontSize={12} dy={4}>x</tspan>
          <tspan {...it} dy={-4}>F</tspan>
          <tspan {...it} fontSize={12} dy={4}>uu</tspan>
          <tspan dy={-4}>/</tspan>
          <tspan {...it}>u</tspan>
          <tspan fontSize={12} dy={-8}>2</tspan>
          <tspan fontSize={12} dx={-6} dy={13}>∗</tspan>
        </SText>
        <SText x={310} y={26} size={18}>
          <tspan {...it}>k</tspan>
          <tspan {...it} fontSize={12} dy={4}>x</tspan>
          <tspan {...it} dy={-4}>C</tspan>
          <tspan {...it} fontSize={12} dy={4}>uv</tspan>
          <tspan dy={-4}>/</tspan>
          <tspan {...it}>u</tspan>
          <tspan fontSize={12} dy={-8}>2</tspan>
          <tspan fontSize={12} dx={-6} dy={13}>∗</tspan>
        </SText>
        <SText x={702} y={22} size={18}>
          <tspan {...it}>R</tspan>
          <tspan {...it} fontSize={12} dy={4}>uu</tspan>
        </SText>
        {CASES.map((c, i) => (
          <SText key={c} x={946} y={ROW_ZERO[i] - ((FLOOR_B[i] + SURFACE_B[i]) / 2) * UNIT + 6} size={17} anchor="start">
            {c}
          </SText>
        ))}
        <SText x={26} y={550} size={20} rotate>
          <tspan>(</tspan>
          <tspan {...it}>z</tspan>
          <tspan>{' −'}</tspan>
          <tspan {...it}>d</tspan>
          <tspan {...it} fontSize={14} dy={4}>sc</tspan>
          <tspan dy={-4}>)/</tspan>
          <tspan {...it}>s</tspan>
        </SText>
        <SText x={410} y={550} size={20} rotate>
          <tspan>(Δ</tspan>
          <tspan {...it}>z</tspan>
          <tspan>{' + '}</tspan>
          <tspan {...it}>z</tspan>
          <tspan {...it} fontSize={14} dy={4}>r</tspan>
          <tspan dy={-4}>)/</tspan>
          <tspan {...it}>s</tspan>
        </SText>
        <SText x={226} y={1107} size={22}>
          <tspan {...it}>y</tspan>
          <tspan>′/</tspan>
          <tspan {...it}>s</tspan>
        </SText>
        <SText x={702} y={1105} size={23}>
          <tspan>(Δ</tspan>
          <tspan {...it}>y</tspan>
          <tspan>{' + '}</tspan>
          <tspan {...it}>y</tspan>
          <tspan {...it} fontSize={16} dy={4}>r</tspan>
          <tspan dy={-4}>)/</tspan>
          <tspan {...it}>s</tspan>
        </SText>
      </svg>

      <ColourBar left={97} width={122} edges={FUU_EDGES} colors={FUU_COLORS} lines={FUU_LINES} ticks={FUU_TICKS} labels={FUU_LABELS} />
      <ColourBar left={249} width={119} edges={CUV_EDGES} colors={CUV_COLORS} lines={CUV_LINES} ticks={CUV_TICKS} labels={CUV_LABELS} />
      <ColourBar left={563} width={290} edges={RUU_EDGES} colors={RUU_COLORS} lines={RUU_LINES} ticks={RUU_TICKS} labels={RUU_LABELS} />

      {CASES.map((c, i) => (
        <React.Fragment key={c}>
          <Panel
            left={100} plotW={114} zero={ROW_ZERO[i]} yMax={Y_MAX[i]} xDomain={[-0.5, 0.5]} xTicks={X_TICKS_A}
            floor={FLOOR_A[i]} surface={SURFACE_A[i]} bg={F[2]} shapes={FUU_ROWS[i]} curve="linear" yLabels
            plus={PLUS_A} plusArm={6.5} plusW={3.5} markX={SURFACE_MARK_A} arcs
          />
          <Panel
            left={251} plotW={114} zero={ROW_ZERO[i]} yMax={Y_MAX[i]} xDomain={[-0.5, 0.5]} xTicks={X_TICKS_A}
            floor={FLOOR_A[i]} surface={SURFACE_A[i]} bg={C[4]} shapes={CUV_ROWS[i]} curve="natural" yLabels={false}
            plus={PLUS_A} plusArm={6.5} plusW={3.5} markX={SURFACE_MARK_A} arcs
          />
          <Panel
            left={472} plotW={460} zero={ROW_ZERO[i]} yMax={Y_MAX[i]} xDomain={[-2, 2]} xTicks={X_TICKS_B}
            floor={FLOOR_B[i]} surface={SURFACE_B[i]} bg={B_BG} shapes={RUU_ROWS[i]} curve="natural" yLabels
            plus={PLUS_B} plusArm={6} plusW={3} markX={SURFACE_MARK_B} arcs={false}
          />
        </React.Fragment>
      ))}

      <BaseAxis left={100} plotW={114} xDomain={[-0.5, 0.5]} xTicks={X_TICKS_A} marks={ROUGHNESS_A} />
      <BaseAxis left={251} plotW={114} xDomain={[-0.5, 0.5]} xTicks={X_TICKS_A} marks={ROUGHNESS_A} />
      <BaseAxis left={472} plotW={460} xDomain={[-2, 2]} xTicks={X_TICKS_B} marks={ROUGHNESS_B} />
    </div>
  )
}
